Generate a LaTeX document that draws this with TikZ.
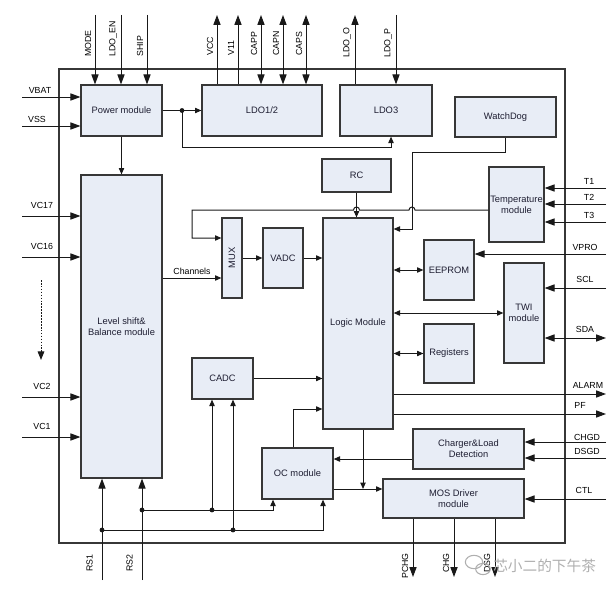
\documentclass[tikz,border=0pt]{standalone}
\usepackage{fontspec}
\setmainfont{Liberation Sans}
\newfontfamily\cjkfont{Noto Sans CJK SC}
\usetikzlibrary{arrows.meta}
\definecolor{boxfill}{RGB}{232,237,246}
\definecolor{boxline}{RGB}{55,55,55}
\definecolor{wirecol}{RGB}{25,25,25}
\definecolor{txtcol}{RGB}{30,30,50}
\definecolor{wmcol}{RGB}{175,175,175}
\tikzset{
  blk/.style={draw=boxline, fill=boxfill, line width=0.9pt, inner sep=1pt, align=center, text=txtcol, font=\fontsize{7}{8.4}\selectfont},
  chipframe/.style={draw=boxline, line width=1.1pt},
  wire/.style={draw=wirecol, line width=0.75pt},
  pinin/.style={wire, -{Triangle[length=7.5pt,width=5.4pt]}},
  pinboth/.style={wire, {Triangle[length=7.5pt,width=5.4pt]}-{Triangle[length=7.5pt,width=5.4pt]}},
  arr/.style={wire, -{Triangle[length=4.8pt,width=4pt]}},
  biarr/.style={wire, {Triangle[length=4.8pt,width=4pt]}-{Triangle[length=4.8pt,width=4pt]}},
  pinlbl/.style={inner sep=0.8pt, text=black, font=\fontsize{6.6}{7}\selectfont},
  jdot/.style={fill=wirecol, circle, inner sep=0pt, minimum size=3.6pt},
}
\newcommand\mkbox[6]{\node[blk, minimum width={(#4-#2)*0.75pt}, minimum height={(#5-#3)*0.75pt}] (#1) at ({(#2+#4)/2},{(#3+#5)/2}) {#6};}
\begin{document}
\begin{tikzpicture}[x=0.75pt,y=-0.75pt]
\useasboundingbox (0,0) rectangle (616,592);
\draw[chipframe] (59,69) rectangle (565,543);

% blocks
\mkbox{pm}{81}{85}{162}{136}{Power module}
\mkbox{ldo12}{202}{85}{322}{136}{LDO1/2}
\mkbox{ldo3}{340}{85}{432}{136}{LDO3}
\mkbox{wd}{455}{97}{556}{137}{WatchDog}
\mkbox{ls}{81}{175}{162}{478}{Level shift\&\\Balance module}
\mkbox{rc}{322}{159}{391}{192}{RC}
\mkbox{temp}{489}{167}{544}{242}{Temperature\\module}
\mkbox{mux}{222}{218}{242}{298}{}
\node[rotate=90, text=txtcol, font=\fontsize{7}{8.4}\selectfont] (muxlbl) at (mux.center) {MUX};
\mkbox{vadc}{263}{228}{303}{288}{VADC}
\mkbox{logic}{323}{218}{393}{429}{Logic Module}
\mkbox{eeprom}{424}{240}{474}{300}{EEPROM}
\mkbox{twi}{504}{263}{544}{363}{TWI\\module}
\mkbox{reg}{424}{324}{474}{383}{Registers}
\mkbox{cadc}{192}{358}{253}{399}{CADC}
\mkbox{oc}{262}{448}{333}{499}{OC module}
\mkbox{chg}{413}{429}{524}{469}{Charger\&Load\\Detection}
\mkbox{mos}{383}{479}{524}{518}{MOS Driver\\module}

% top pins
\foreach \x/\t in {95/MODE,121/LDO\_EN,147/SHIP}{
  \coordinate (tp\x) at (\x,15);
  \draw[pinin] (tp\x) -- (tp\x |- pm.north);
  \node[pinlbl, rotate=90, anchor=south west] (tl\x) at (\x-2.5,58) {\t};
}
\foreach \x/\t in {217/VCC,238/V11}{
  \coordinate (tp\x) at (\x,15);
  \draw[pinin] (tp\x |- ldo12.north) -- (tp\x);
  \node[pinlbl, rotate=90, anchor=south west] (tl\x) at (\x-2.5,57) {\t};
}
\foreach \x/\t in {261/CAPP,283/CAPN,306/CAPS}{
  \coordinate (tp\x) at (\x,15);
  \draw[pinboth] (tp\x) -- (tp\x |- ldo12.north);
  \node[pinlbl, rotate=90, anchor=south west] (tl\x) at (\x-2.5,57) {\t};
}
\coordinate (tp355) at (355,15);
\draw[pinin] (tp355 |- ldo3.north) -- (tp355);
\node[pinlbl, rotate=90, anchor=south west] (tl355) at (352.5,59) {LDO\_O};
\coordinate (tp396) at (396,15);
\draw[pinin] (tp396) -- (tp396 |- ldo3.north);
\node[pinlbl, rotate=90, anchor=south west] (tl396) at (393.5,59) {LDO\_P};

% left pins
\foreach \y/\t/\lx/\ly in {97/VBAT/40/95,126/VSS/37/124}{
  \coordinate (lp\y) at (22,\y);
  \draw[pinin] (lp\y) -- (lp\y -| pm.west);
  \node[pinlbl, anchor=south] (ll\y) at (\lx,\ly) {\t};
}
\foreach \y/\t in {216/VC17,257/VC16,397/VC2,437/VC1}{
  \coordinate (lp\y) at (22,\y);
  \draw[pinin] (lp\y) -- (lp\y -| ls.west);
  \node[pinlbl, anchor=south] (ll\y) at (42,\y-6) {\t};
}
\coordinate (d1) at (41,280);
\coordinate (d2) at (41,360);
\draw[wire, dash pattern=on 1.2pt off 1pt, -{Triangle[length=6.5pt,width=5pt]}] (d1) -- (d2);

% right pins
\foreach \y/\t/\lx/\ly in {188/T1/589/186,204/T2/589/202,222/T3/589/220}{
  \coordinate (rp\y) at (606,\y);
  \draw[pinin] (rp\y) -- (rp\y -| temp.east);
  \node[pinlbl, anchor=south] (rl\y) at (\lx,\ly) {\t};
}
\coordinate (rp254) at (606,254);
\draw[pinin] (rp254) -- (rp254 -| eeprom.east);
\node[pinlbl, anchor=south] (rl254) at (585,252) {VPRO};
\coordinate (rp288) at (606,288);
\draw[pinin] (rp288) -- (rp288 -| twi.east);
\node[pinlbl, anchor=south] (rl288) at (585,284) {SCL};
\coordinate (rp338) at (606,338);
\draw[pinboth] (rp338 -| twi.east) -- (rp338);
\node[pinlbl, anchor=south] (rl338) at (585,334) {SDA};
\coordinate (rp394) at (606,394);
\draw[pinin] (rp394 -| logic.east) -- (rp394);
\node[pinlbl, anchor=south] (rl394) at (588,390) {ALARM};
\coordinate (rp414) at (606,414);
\draw[pinin] (rp414 -| logic.east) -- (rp414);
\node[pinlbl, anchor=south] (rl414) at (580,410) {PF};
\coordinate (rp442) at (606,442);
\draw[pinin] (rp442) -- (rp442 -| chg.east);
\node[pinlbl, anchor=south] (rl442) at (587,442) {CHGD};
\coordinate (rp458) at (606,458);
\draw[pinin] (rp458) -- (rp458 -| chg.east);
\node[pinlbl, anchor=south] (rl458) at (587,456) {DSGD};
\coordinate (rp499) at (606,499);
\draw[pinin] (rp499) -- (rp499 -| mos.east);
\node[pinlbl, anchor=south] (rl499) at (584,495) {CTL};

% bottom pins
\foreach \x/\t in {413/PCHG,454/CHG,495/DSG}{
  \coordinate (bp\x) at (\x,577);
  \draw[pinin] (bp\x |- mos.south) -- (bp\x);
  \node[pinlbl, rotate=90, anchor=south east] (bl\x) at (\x-3.5,552) {\t};
}
\foreach \x/\t in {102/RS1,142/RS2}{
  \coordinate (bp\x) at (\x,580);
  \draw[pinin] (bp\x) -- (bp\x |- ls.south);
  \node[pinlbl, rotate=90, anchor=south east] (bl\x) at (\x-8,553) {\t};
}

% internal connections
\draw[arr] (pm.east) -- (ldo12.west);
\node[jdot] (j1) at (182,110.5) {};
\coordinate (c1) at (182,147);
\coordinate (c2) at (391,147);
\draw[arr] (j1.center) -- (c1) -- (c2) -- (c2 |- ldo3.south);
\draw[arr] (pm.south) -- (ls.north);

\coordinate (w1) at (505.5,152);
\coordinate (w2) at (412,152);
\coordinate (w3) at (412,229);
\draw[arr] (wd.south) -- (w1) -- (w2) -- (w3) -- (w3 -| logic.east);

\coordinate (t1) at (489,210);
\coordinate (t2) at (192,238);
\draw[arr] (t1 -| temp.west) -- (415,210) arc[start angle=0,end angle=180,radius=2.25pt]
  -- (359.5,210) arc[start angle=0,end angle=180,radius=2.25pt]
  -- (192,210) -- (t2) -- (t2 -| mux.west);
\draw[arr] (rc.south) -- (rc.south |- logic.north);

\coordinate (ch) at (162,278);
\draw[arr] (ch -| ls.east) -- (ch -| mux.west);
\node[pinlbl, anchor=south] (chl) at (192,276) {Channels};
\draw[arr] (mux.east) -- (vadc.west);
\draw[arr] (vadc.east) -- (vadc.east -| logic.west);

\draw[biarr] (logic.east |- eeprom.west) -- (eeprom.west);
\draw[biarr] (logic.east |- twi.west) -- (twi.west);
\draw[biarr] (logic.east |- reg.west) -- (reg.west);

\draw[arr] (cadc.east) -- (cadc.east -| logic.west);
\coordinate (o1) at (293,409);
\draw[arr] (o1 |- oc.north) -- (o1) -- (o1 -| logic.west);
\coordinate (m1) at (363,489);
\draw[arr] (m1 |- logic.south) -- (m1);
\draw[arr] (m1 -| oc.east) -- (m1 -| mos.west);
\coordinate (c459) at (413,459);
\draw[arr] (c459 -| chg.west) -- (c459 -| oc.east);

% shunt sense junctions
\node[jdot] (j2) at (142,510) {};
\node[jdot] (j3) at (212,510) {};
\node[jdot] (j4) at (102,530) {};
\node[jdot] (j5) at (233,530) {};
\coordinate (s1) at (273,510);
\coordinate (s2) at (323,530);
\draw[wire] (j2.center) -- (j3.center);
\draw[arr] (j3.center) -- (j3.center |- cadc.south);
\draw[arr] (j3.center) -- (s1) -- (s1 |- oc.south);
\draw[wire] (j4.center) -- (j5.center);
\draw[arr] (j5.center) -- (j5.center |- cadc.south);
\draw[arr] (j5.center) -- (s2) -- (s2 |- oc.south);

% watermark
\draw[wmcol, line width=0.8pt] (474,562) ellipse[x radius=6.5pt, y radius=5pt];
\draw[wmcol, line width=0.8pt] (483,569) ellipse[x radius=5.5pt, y radius=4.2pt];
\node[text=wmcol, font=\cjkfont\fontsize{11}{12}\selectfont, anchor=west, inner sep=0pt] (wmark) at (493,566) {芯小二的下午茶};
\end{tikzpicture}
\end{document}
